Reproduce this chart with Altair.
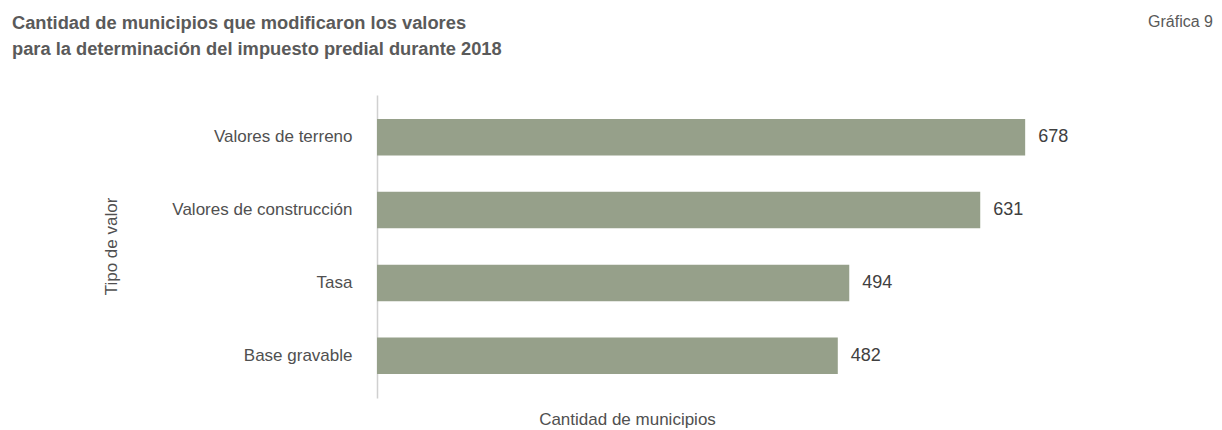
import altair as alt
import pandas as pd

categories = ["Valores de terreno", "Valores de construcción", "Tasa", "Base gravable"]
values = [678, 631, 494, 482]

title_lines = ["Cantidad de municipios que modificaron los valores",
               "para la determinación del impuesto predial durante 2018"]
chart_number = "Gráfica 9"
x_title = "Cantidad de municipios"
y_title = "Tipo de valor"

df = pd.DataFrame({"tipo": categories, "valor": values})

FONT = "Liberation Sans, Arial, sans-serif"
W, H = 717, 303

base = alt.Chart(df).encode(
    y=alt.Y("tipo:N", sort=categories,
            scale=alt.Scale(paddingInner=0.5, paddingOuter=0.33),
            axis=alt.Axis(title=y_title, ticks=False, labelPadding=25, labelLimit=400,
                          domainColor="#d0d0d0", domainWidth=1.5,
                          labelFont=FONT, labelFontSize=17, labelColor="#505050",
                          titleFont=FONT, titleFontSize=17, titleColor="#505050",
                          titleFontWeight="normal", titleX=-266, titleY=151,
                          titleBaseline="middle", titleAngle=-90)),
)

bars = base.mark_bar(color="#96a08a").encode(
    x=alt.X("valor:Q", scale=alt.Scale(domain=[0, 750], nice=False),
            axis=alt.Axis(title=x_title, labels=False, ticks=False, domain=False,
                          grid=False, titleFont=FONT, titleFontSize=17,
                          titleColor="#505050", titleFontWeight="normal",
                          titleX=250, titleY=13, titleBaseline="top")),
)

labels = base.mark_text(align="left", baseline="middle", dx=13, font=FONT,
                        fontSize=18, color="#404040").encode(
    x="valor:Q", text="valor:Q")

tag = alt.Chart(pd.DataFrame({"t": [chart_number]})).mark_text(
    align="right", baseline="alphabetic", font=FONT, fontSize=16, color="#595959"
).encode(x=alt.value(836), y=alt.value(-68), text="t:N")

heading = alt.Chart(pd.DataFrame({"t": [0]})).mark_text(
    text=title_lines, align="left", baseline="alphabetic", font=FONT, fontSize=18.3,
    fontWeight="bold", color="#5a5a5a", lineHeight=26
).encode(x=alt.value(-365), y=alt.value(-66))

chart = alt.layer(bars, labels, tag, heading).properties(
    width=W, height=H,
    autosize=alt.AutoSizeParams(type="none"),
    padding={"left": 369, "top": 87, "right": 120, "bottom": 30},
).configure_view(stroke=None)

chart.save("out.html", embed_options={"renderer": "svg", "actions": False})
